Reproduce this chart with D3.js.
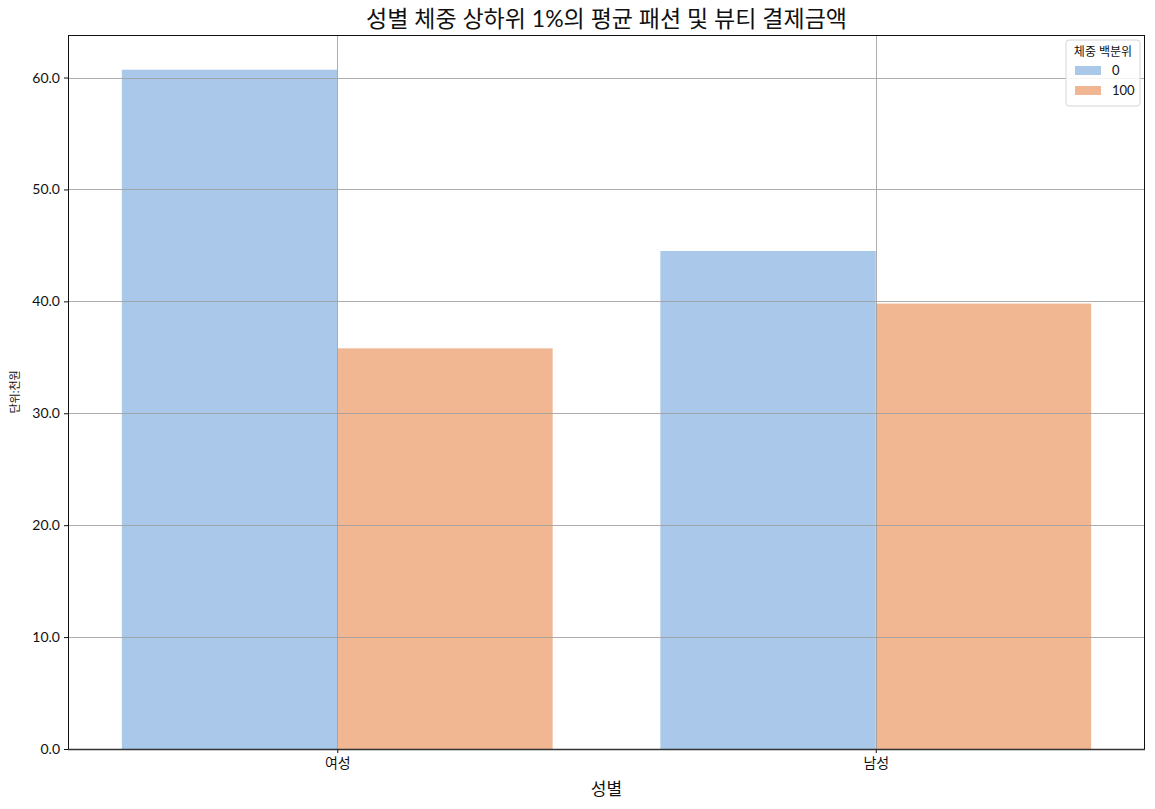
<!DOCTYPE html>
<html><head><meta charset="utf-8">
<script src="https://cdn.jsdelivr.net/npm/d3@7"></script>
<style>body{margin:0;background:#fff;} text{font-family:Lato,"Noto Sans CJK KR",sans-serif;}</style>
</head><body>
<svg id="c" width="1155" height="809"></svg>
<script>
const categories = ["여성", "남성"];
const seriesNames = ["0", "100"];
const values0 = [60.7, 44.5];
const values100 = [35.8, 39.8];
const yTicks = [0, 10, 20, 30, 40, 50, 60];
const colors = ["#aac8ea", "#f0b792"];

const svg = d3.select("#c");
const m = {l: 68, r: 1145, t: 35, b: 749};
const x = d3.scaleLinear().domain([-0.5, 1.5]).range([m.l, m.r]);
const y = d3.scaleLinear().domain([0, 63.8]).range([m.b, m.t]);

svg.append("text").attr("x", (m.l + m.r) / 2).attr("y", 27).attr("text-anchor", "middle")
  .attr("font-size", 23).attr("fill", "#111").text("성별 체중 상하위 1%의 평균 패션 및 뷰티 결제금액");

const series = [values0, values100];
const barW = 0.4;
series.forEach((vals, si) => {
  svg.append("g").selectAll("rect").data(vals).join("rect")
    .attr("x", (d, i) => x(i - 0.4 + si * barW))
    .attr("width", x(barW) - x(0))
    .attr("y", d => y(d))
    .attr("height", d => y(0) - y(d))
    .attr("fill", colors[si]);
});

// grid on top (semi-transparent)
const grid = svg.append("g").attr("stroke", "#9f9f9f").attr("stroke-opacity", 0.85).attr("stroke-width", 1);
yTicks.slice(1).forEach(t => grid.append("line").attr("x1", m.l).attr("x2", m.r).attr("y1", Math.round(y(t)) + 0.5).attr("y2", Math.round(y(t)) + 0.5));
categories.forEach((c, i) => grid.append("line").attr("y1", m.t).attr("y2", m.b).attr("x1", Math.round(x(i)) + 0.5).attr("x2", Math.round(x(i)) + 0.5));

// frame
svg.append("rect").attr("x", m.l + 0.5).attr("y", m.t + 0.5).attr("width", m.r - m.l - 1).attr("height", m.b - m.t)
  .attr("fill", "none").attr("stroke", "#111").attr("stroke-width", 1);

const yAxis = d3.axisLeft(y).tickValues(yTicks).tickFormat(d3.format(".1f")).tickSize(4).tickPadding(4);
const gy = svg.append("g").attr("transform", `translate(${m.l},0)`).call(yAxis);
gy.select(".domain").remove();
gy.selectAll("text").attr("font-size", 14).attr("fill", "#111").style("font-family", "Lato");
gy.selectAll("line").attr("stroke", "#111");

const xAxis = d3.axisBottom(x).tickValues([0, 1]).tickFormat(i => categories[i]).tickSize(4).tickPadding(5);
const gx = svg.append("g").attr("transform", `translate(0,${m.b})`).call(xAxis);
gx.select(".domain").remove();
gx.selectAll("text").attr("font-size", 14).attr("fill", "#111");
gx.selectAll("line").attr("stroke", "#111");
svg.append("line").attr("x1", m.l).attr("x2", m.r).attr("y1", m.b + 0.5).attr("y2", m.b + 0.5).attr("stroke", "#333").attr("stroke-width", 1.5);

svg.append("text").attr("x", (m.l + m.r) / 2).attr("y", 795).attr("text-anchor", "middle")
  .attr("font-size", 17).attr("fill", "#111").text("성별");
svg.append("text").attr("transform", `translate(19,${(m.t + m.b) / 2}) rotate(-90)`).attr("text-anchor", "middle")
  .attr("font-size", 11).attr("fill", "#111").text("단위:천원");

// legend
const lg = svg.append("g").attr("transform", "translate(1066,40)");
lg.append("rect").attr("width", 74).attr("height", 66).attr("rx", 3).attr("fill", "#fff").attr("fill-opacity", 0.85)
  .attr("stroke", "#d6d6d6");
lg.append("text").attr("x", 37).attr("y", 16).attr("text-anchor", "middle").attr("font-size", 12).attr("fill", "#111").text("체중 백분위");
seriesNames.forEach((s, i) => {
  lg.append("rect").attr("x", 9).attr("y", 26 + i * 20).attr("width", 26).attr("height", 9).attr("fill", colors[i]);
  lg.append("text").attr("x", 46).attr("y", 35 + i * 20).attr("font-size", 13).attr("fill", "#111").text(s);
});
</script>
</body></html>
